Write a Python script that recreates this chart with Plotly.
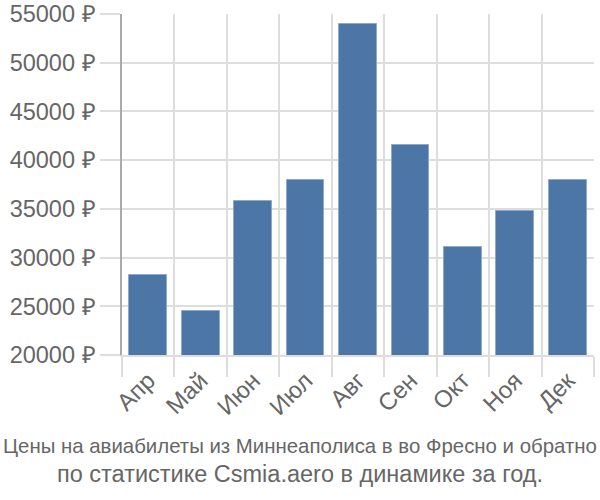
import plotly.graph_objects as go

months = ["Апр", "Май", "Июн", "Июл", "Авг", "Сен", "Окт", "Ноя", "Дек"]
prices = [28200, 24500, 35800, 38000, 54000, 41600, 31100, 34750, 38000]
y_ticks = [20000, 25000, 30000, 35000, 40000, 45000, 50000, 55000]
y_labels = [f"{v} ₽" for v in y_ticks]
title_line1 = "Цены на авиабилеты из Миннеаполиса в во Фресно и обратно"
title_line2 = "по статистике Csmia.aero в динамике за год."

xs = list(range(len(months)))
bounds = [i - 0.5 for i in range(len(months) + 1)]

grid = "#dddddd"
txt = "#666666"
font = "Liberation Sans, Arial, sans-serif"

fig = go.Figure(go.Bar(
    x=xs, y=prices, width=0.72,
    marker=dict(color="#4b76a6", line=dict(color="#8fa9c8", width=1)),
    hoverinfo="skip",
))

fig.update_layout(
    width=600, height=500,
    margin=dict(l=122, r=6, t=14, b=145),
    paper_bgcolor="white", plot_bgcolor="white",
    showlegend=False,
    bargap=0,
    font=dict(family=font, color=txt, size=19),
)
fig.update_xaxes(
    range=[-0.5, len(months) - 0.5], automargin=False,
    tickmode="array", tickvals=xs, ticktext=months,
    tickangle=-45, showgrid=False, ticks="", zeroline=False,
    tickfont=dict(size=24, color=txt),
    showline=True, linecolor=grid, linewidth=2,
    minor=dict(tickmode="array", tickvals=bounds, showgrid=True,
               gridcolor=grid, gridwidth=1.5, ticks="outside",
               ticklen=20, tickcolor=grid, tickwidth=1.5),
)
fig.update_yaxes(
    range=[20000, 55000], automargin=False,
    tickmode="array", tickvals=y_ticks, ticktext=y_labels,
    showgrid=True, gridcolor=grid, gridwidth=1.5,
    ticks="outside", ticklen=20, tickcolor=grid, tickwidth=1.5,
    tickfont=dict(size=23.5, color=txt),
    showline=True, linecolor="#aaaaaa", linewidth=1.5,
    zeroline=False,
)
cx = (300 - 122) / 472
fig.add_annotation(text=title_line1, xref="paper", yref="paper",
                   x=cx, y=-0.267, xanchor="center", yanchor="middle",
                   showarrow=False,
                   font=dict(size=20.4, color=txt))
fig.add_annotation(text=title_line2, xref="paper", yref="paper",
                   x=cx, y=-0.35, xanchor="center", yanchor="middle",
                   showarrow=False, font=dict(size=23.5, color=txt))

fig.write_html("out.html")
